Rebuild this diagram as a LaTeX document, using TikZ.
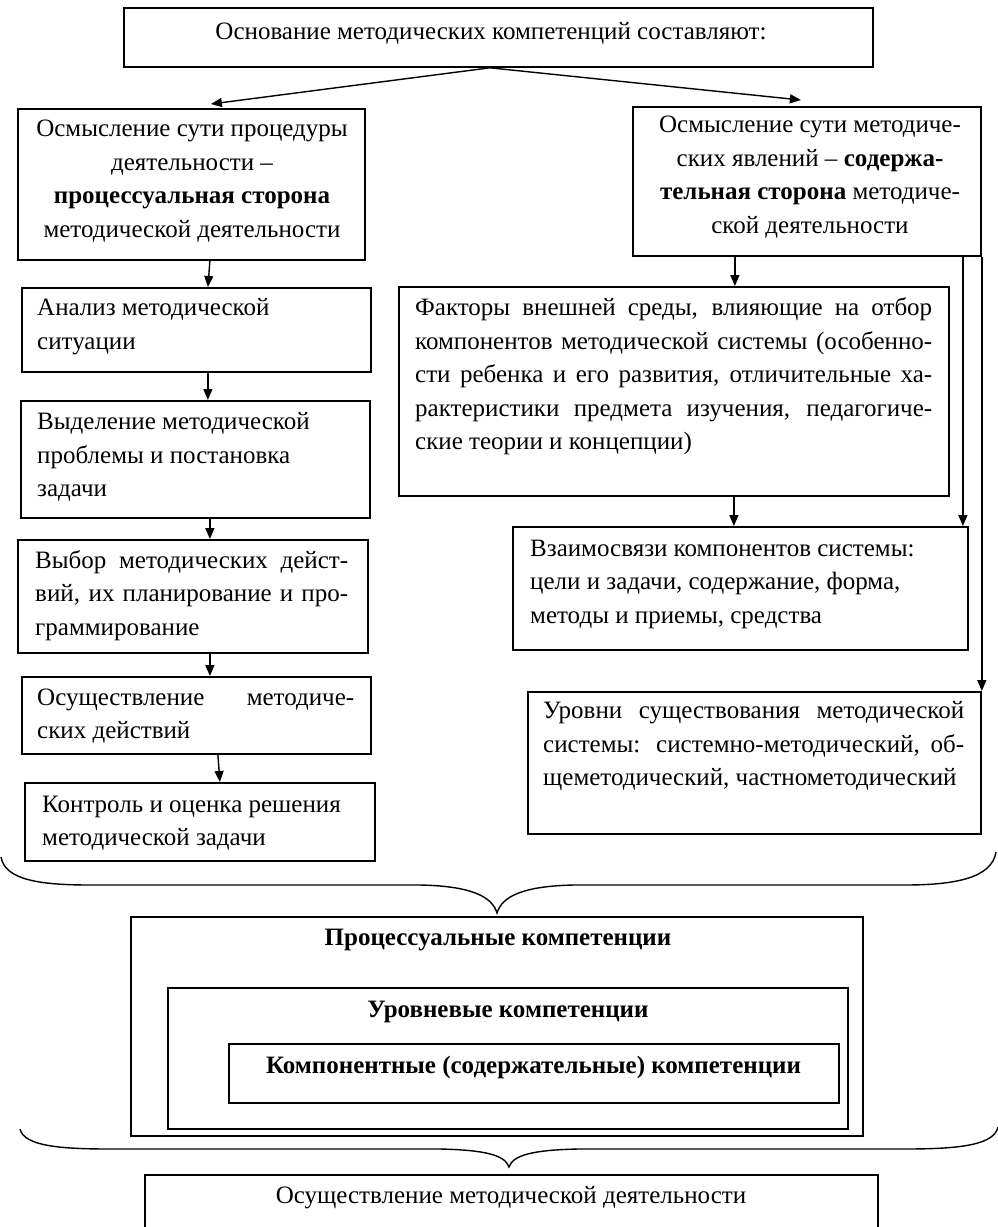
\documentclass[tikz,border=0pt]{standalone}
\usepackage{fontspec}
\setmainfont{Liberation Serif}
\usetikzlibrary{arrows.meta}
\newcommand\jst[2]{\makebox[#1][s]{#2}}
\newcommand\mkbox[5]{\node[box, minimum width={(#4-#2)*1pt}, minimum height={(#5-#3)*1pt}] (#1) at (#2,#3) {};}
\begin{document}
\begin{tikzpicture}[x=1pt,y=-1pt,
 box/.style={draw, line width=1.8pt, inner sep=0pt, anchor=north west},
 txt/.style={font=\fontsize{25}{33.5}\selectfont, inner sep=0pt, align=left},
 btxt/.style={font=\fontsize{25}{33.5}\selectfont\bfseries, inner sep=0pt},
 arr/.style={line width=1.4pt, -{Triangle[length=11pt,width=9pt]}},
 brace/.style={line width=1.4pt}]
\useasboundingbox (0,0) rectangle (998,1227);
\clip (0,0) rectangle (998,1227);
% boxes
\mkbox{top}{123}{7}{872}{66}
\mkbox{l1}{17}{108}{364}{259}
\mkbox{r1}{632}{106}{980}{255}
\mkbox{l2}{21}{287}{370}{371}
\mkbox{l3}{20}{400}{369}{517}
\mkbox{l4}{17}{539}{367}{652}
\mkbox{l5}{21}{676}{370}{753}
\mkbox{l6}{24}{782}{374}{860}
\mkbox{r2}{398}{286}{948}{495}
\mkbox{r3}{512}{526}{967}{649}
\mkbox{r4}{527}{691}{980}{833}
\mkbox{p}{130}{916}{862}{1135}
\mkbox{u}{167}{987}{847}{1128}
\mkbox{k}{228}{1043}{838}{1102}
\mkbox{bot}{144}{1174}{877}{1240}
% texts
\node[txt, align=center] (topt) at (491,33) {Основание методических компетенций составляют:};
\node[txt, align=center] (l1t) at (192,181) {Осмысление сути процедуры\\деятельности –\\\textbf{процессуальная сторона}\\методической деятельности};
\node[txt, align=center] (r1t) at (810,177) {Осмысление сути методиче-\\ских явлений – \textbf{содержа-}\\\textbf{тельная сторона} методиче-\\ской деятельности};
\node[txt, anchor=west] (l2t) at (37,326.5) {Анализ методической\\ситуации};
\node[txt, anchor=west] (l3t) at (37,457) {Выделение методической\\проблемы и постановка\\задачи};
\node[txt, anchor=west] (l4t) at (35,595.5) {\jst{313pt}{Выбор методических дейст-}\\\jst{313pt}{вий, их планирование и про-}\\граммирование};
\node[txt, anchor=west] (l5t) at (37,716) {\jst{317pt}{Осуществление методиче-}\\ских действий};
\node[txt, anchor=west] (l6t) at (42,823) {Контроль и оценка решения\\методической задачи};
\node[txt, anchor=west] (r2t) at (415,376.5) {\jst{517pt}{Факторы внешней среды, влияющие на отбор}\\\jst{517pt}{компонентов методической системы (особенно-}\\\jst{517pt}{сти ребенка и его развития, отличительные ха-}\\\jst{517pt}{рактеристики предмета изучения, педагогиче-}\\ские теории и концепции)};
\node[txt, anchor=west] (r3t) at (530,584) {Взаимосвязи компонентов системы:\\цели и задачи, содержание, форма,\\методы и приемы, средства};
\node[txt, anchor=west] (r4t) at (543,746.5) {\jst{421pt}{Уровни существования методической}\\\jst{421pt}{системы: системно-методический, об-}\\щеметодический, частнометодический};
\node[btxt] (pt) at (498,940) {Процессуальные компетенции};
\node[btxt] (ut) at (508,1012) {Уровневые компетенции};
\node[btxt] (kt) at (533.5,1067) {Компонентные (содержательные) компетенции};
\node[txt] (bt) at (511,1198) {Осуществление методической деятельности};
% arrows
\draw[arr] ([xshift=-8.5pt]top.south) -- ([xshift=19.5pt,yshift=4pt]l1.north);
\draw[arr] ([xshift=-8.5pt]top.south) -- ([xshift=-6pt,yshift=6pt]r1.north);
\draw[arr] ([xshift=18.5pt]l1.south) -- ([xshift=11.5pt]l2.north);
\draw[arr] ([xshift=11.5pt]l2.south) -- ([xshift=12.5pt]l3.north);
\draw[arr] ([xshift=14.5pt]l3.south) -- ([xshift=17pt]l4.north);
\draw[arr] ([xshift=17pt]l4.south) -- ([xshift=13.5pt]l5.north);
\draw[arr] ([xshift=21.5pt]l5.south) -- ([xshift=20pt]l6.north);
\draw[arr] ([xshift=-72pt]r1.south) -- ([xshift=61pt]r2.north);
\draw[arr] ([xshift=60pt]r2.south) -- ([xshift=-6.5pt]r3.north);
\draw[arr] ([xshift=156pt]r1.south) -- ([xshift=222.5pt]r3.north);
\draw[arr] (r1.south east) -- (r4.north east);
% braces
\draw[brace] (1,857) .. controls (5,880) and (40,885) .. (90,885) -- (420,885)
  .. controls (470,886) and (492,896) .. (497,913)
  .. controls (502,896) and (524,886) .. (574,885) -- (905,885)
  .. controls (955,885) and (992,878) .. (996,852);
\draw[brace] (20,1129) .. controls (24,1146) and (60,1149) .. (110,1149) -- (440,1149)
  .. controls (485,1150) and (505,1155) .. (509,1167)
  .. controls (513,1155) and (533,1150) .. (578,1149) -- (905,1149)
  .. controls (960,1149) and (994,1145) .. (998,1127);
\end{tikzpicture}
\end{document}
